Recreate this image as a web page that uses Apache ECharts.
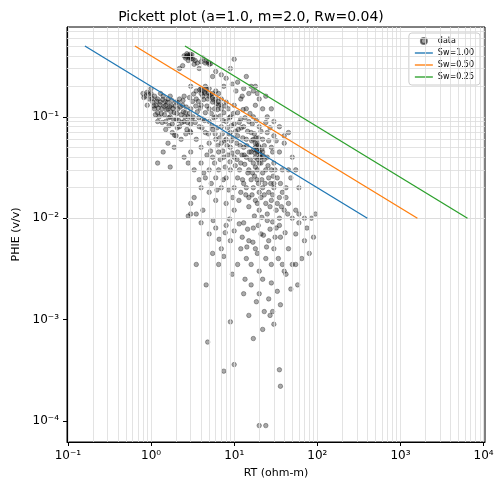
<!DOCTYPE html>
<html><head><meta charset="utf-8">
<script src="https://cdn.jsdelivr.net/npm/echarts@6/dist/echarts.min.js"></script>
<style>html,body{margin:0;padding:0;background:#fff}#c{width:502px;height:495px}</style>
</head><body><div id="c"></div>
<script>
const samples = [
[0.8,0.17],[0.85,0.16],[0.9,0.175],[0.95,0.15],[1.0,0.17],[1.05,0.14],[1.1,0.16],[1.1,0.12],[1.15,0.13],[1.2,0.15],[1.2,0.11],[1.25,0.1],[1.3,0.14],[1.35,0.12],[1.4,0.16],[1.45,0.105],[1.5,0.13],[1.5,0.09],[1.6,0.12],[1.6,0.15],[1.7,0.1],[1.75,0.13],[1.8,0.085],[1.9,0.11],[2.0,0.14],[2.0,0.095],[2.1,0.12],[2.2,0.08],[2.3,0.105],[2.4,0.13],[2.5,0.09],[2.6,0.11],[2.7,0.075],[2.8,0.1],[3.0,0.085],[1.0,0.19],[0.9,0.13],[1.3,0.17],[1.7,0.16],[2.2,0.15],[2.5,0.16],[3.0,0.12],[1.2,0.09],[1.5,0.075],[1.8,0.07],[2.0,0.065],[1.6,0.055],[1.9,0.05],[2.3,0.06],[1.4,0.045],[1.2,0.035],[1.7,0.032],
[0.82,0.155],[0.93,0.168],[1.03,0.152],[1.08,0.128],[1.17,0.143],[1.22,0.122],[1.28,0.132],[1.33,0.108],[1.38,0.148],[1.43,0.127],[1.53,0.117],[1.57,0.139],[1.63,0.098],[1.68,0.126],[1.73,0.112],[1.83,0.121],[1.87,0.094],[1.95,0.128],[2.05,0.108],[2.15,0.092],[2.25,0.125],[2.35,0.088],[2.45,0.112],[2.55,0.1],[2.65,0.125],[2.75,0.088],[2.9,0.108],[2.95,0.072],[3.1,0.095],[1.13,0.105],[1.48,0.142],[1.78,0.145],[2.12,0.138],[2.42,0.145],[1.36,0.088],[1.65,0.082],[2.07,0.078],[2.62,0.068],[1.92,0.066],
[2.5,0.4],[2.6,0.38],[2.8,0.36],[2.9,0.4],[3.0,0.39],[3.2,0.37],[3.4,0.36],[3.6,0.34],[4.0,0.35],[4.5,0.34],[5,0.33],[2.4,0.32],[3.8,0.3],[2.2,0.3],[6,0.28],[5.5,0.25],[7,0.26],[2.7,0.42],[3.1,0.41],[4.2,0.38],[2.65,0.395],[2.75,0.405],[2.85,0.385],[2.95,0.415],[3.05,0.375],[4.6,0.355],[4.9,0.345],[5.2,0.335],[3.3,0.33],
[10,0.37],[9,0.3],[14,0.25],[16,0.2],[17,0.18],[11,0.22],[8,0.24],[13,0.19],[9.5,0.21],[12.5,0.16],[15,0.17],[7.5,0.2],[10.5,0.18],[18,0.2],[19,0.17],
[3,0.2],[3.5,0.18],[3.5,0.15],[4,0.17],[4,0.13],[4.5,0.2],[4.5,0.11],[5,0.16],[5,0.12],[5,0.09],[5.5,0.14],[6,0.18],[6,0.1],[6.5,0.13],[7,0.15],[7,0.08],[7.5,0.11],[8,0.14],[8,0.09],[8.5,0.12],[9,0.1],[9,0.07],[10,0.13],[10,0.085],[11,0.11],[11,0.065],[12,0.095],[12,0.15],[13,0.08],[14,0.12],[14,0.06],[15,0.09],[16,0.07],[17,0.1],[18,0.055],[20,0.08],[20,0.045],[22,0.06],[25,0.07],[25,0.04],[28,0.05],[30,0.065],[35,0.045],[40,0.055],[45,0.03],
[3.25,0.168],[3.7,0.142],[3.9,0.122],[4.3,0.148],[4.7,0.128],[5.3,0.108],[5.7,0.098],[6.3,0.118],[6.8,0.102],[7.3,0.092],[7.8,0.128],[8.3,0.078],[8.8,0.098],[9.3,0.082],[9.8,0.108],[10.4,0.072],[11.5,0.088],[12.2,0.078],[12.8,0.118],[13.5,0.098],[14.5,0.072],[15.5,0.108],[16.5,0.085],[17.5,0.068],[18.5,0.092],[19.5,0.062],[21,0.072],[23,0.052],[24,0.088],[26,0.058],[27,0.078],[29,0.045],[32,0.058],[3.4,0.088],[3.6,0.112],[4.1,0.078],[4.4,0.092],[4.9,0.068],[5.4,0.082],[5.9,0.068],[6.2,0.078],[6.7,0.062],[7.2,0.068],[7.7,0.058],[8.2,0.052],[8.7,0.068],[9.2,0.058],[9.7,0.062],[10.7,0.055],[11.2,0.075],[11.8,0.052],[12.7,0.062],[13.2,0.042],[14.2,0.052],[15.2,0.045],[16.2,0.058],[17.2,0.048],[18.2,0.062],[3.15,0.142],[3.45,0.128],[3.75,0.098],[2.9,0.155],[3.85,0.185],
[3,0.07],[3.2,0.1],[3.5,0.06],[3.8,0.08],[4,0.05],[4.2,0.095],[4.5,0.07],[5,0.055],[5.5,0.075],[6,0.06],[6.5,0.045],[7,0.055],[7.5,0.04],[8,0.06],[9,0.05],[10,0.04],[11,0.045],[12,0.035],[13,0.05],[14,0.04],[15,0.03],[16,0.045],[17,0.035],[18,0.04],[19,0.03],[20,0.035],[22,0.028],[24,0.03],[26,0.025],[28,0.03],[30,0.022],[3,0.045],[2.8,0.035],[2.5,0.04],[3.3,0.03],[4,0.035],[4.5,0.025],[5,0.03],[5.5,0.04],[6,0.025],[6.5,0.03],[7,0.02],[8,0.025],[9,0.03],[10,0.02],[11,0.025],[12,0.018],[13,0.022],[14,0.02],[15,0.016],[16,0.024],[17,0.02],[18,0.015],[20,0.018],[22,0.02],[24,0.014],[26,0.018],[28,0.015],[30,0.02],[32,0.012],[35,0.016],[40,0.012],[45,0.014],[50,0.01],[35,0.01],[25,0.011],[20,0.012],[15,0.013],[10,0.012],[8,0.014],[6,0.015],[5,0.018],[4,0.02],[3.5,0.011],[4.2,0.012],[3,0.011],
[5.2,0.046],[5.8,0.035],[6.3,0.052],[6.8,0.038],[7.3,0.046],[7.8,0.032],[8.4,0.042],[8.9,0.036],[9.4,0.044],[10.3,0.033],[10.8,0.038],[11.6,0.03],[12.4,0.042],[13.4,0.034],[14.6,0.028],[15.6,0.038],[16.6,0.028],[17.6,0.026],[18.8,0.024],[19.6,0.022],[21.5,0.024],[23.5,0.022],[25.5,0.033],[27.5,0.022],[29.5,0.026],[31,0.03],[33,0.025],[36,0.022],[38,0.018],[42,0.016],[4.7,0.042],[4.3,0.028],[3.8,0.024],[5.3,0.022],[6.2,0.019],[7.4,0.024],[8.6,0.019],[9.6,0.016],[11.4,0.015],[12.6,0.024],[13.8,0.017],[16.4,0.017],[19,0.014],[21,0.016],[23,0.017],[27,0.013],[29,0.017],[33,0.014],[37,0.013],[44,0.011],[55,0.012],[60,0.011],[70,0.01],
[18,0.05],[19,0.045],[20,0.05],[21,0.04],[22,0.045],[19,0.055],[17,0.06],[21,0.035],[23,0.038],[18,0.032],[18.5,0.047],[19.5,0.052],[20.5,0.043],[21.5,0.048],[22.5,0.041],[19.2,0.038],[20.2,0.04],[17.8,0.044],
[4,0.19],[4.5,0.17],[5,0.19],[5.5,0.17],[4.2,0.16],[4.8,0.15],[6,0.15],[6.5,0.17],[7,0.12],[5.8,0.12],[4.1,0.182],[4.4,0.175],[4.6,0.188],[4.9,0.172],[5.2,0.165],[5.4,0.155],[5.6,0.148],[6.1,0.135],[6.4,0.142],[6.9,0.132],
[20,0.15],[22,0.12],[25,0.1],[28,0.12],[30,0.09],[35,0.08],[40,0.065],[45,0.07],[50,0.04],[55,0.03],[24,0.16],[18,0.13],[30,0.035],[38,0.03],[42,0.02],[60,0.02],[48,0.025],
[4,0.009],[5,0.007],[6,0.008],[7,0.005],[8,0.0085],[9,0.006],[10,0.0075],[12,0.005],[13,0.009],[14,0.004],[15,0.006],[16,0.0035],[17,0.008],[18,0.005],[19,0.0045],[20,0.003],[21,0.007],[22,0.0025],[24,0.004],[26,0.006],[28,0.0035],[30,0.005],[32,0.008],[34,0.004],[36,0.0065],[38,0.0035],[40,0.003],[45,0.005],[48,0.002],[50,0.0035],[55,0.007],[60,0.009],[70,0.006],[80,0.0045],[90,0.0065],[85,0.01],[95,0.011],[75,0.008],[65,0.004],[5.5,0.0045],[6.5,0.0035],[3.5,0.0035],[4.6,0.0022],[7.5,0.0042],[9.5,0.0028],[11,0.0035],[13.5,0.0025],[16,0.0022],[18.5,0.0015],[20,0.0018],[23,0.0012],[26,0.0016],[28,0.0023],[29,0.0012],[33,0.0019],[36,0.0014],[42,0.0028],[55,0.0035],[58,0.0022],[3,0.014],[2.8,0.0105],[3.3,0.016],
[5.6,0.0095],[6.6,0.0062],[7.8,0.0072],[8.8,0.0098],[11.5,0.0088],[12.5,0.0065],[14.5,0.0078],[16.8,0.0058],[19.5,0.0085],[22.5,0.0068],[25,0.0095],[27,0.0078],[31,0.0065],[35,0.0085],[41,0.0072],[29,0.0092],[17.5,0.0105],[21.5,0.0102],[24.5,0.0052],[14.2,0.0052],
[4.8,0.0006],[7.5,0.00031],[10,0.00036],[9,0.00095],[22,0.0008],[30,0.0009],[35,0.00032],[36,0.00022],[20,0.00009],[24,0.00009],[13,0.0018],[17,0.00065],[15,0.0011],[27,0.0011]
];
const swLabels = ['Sw=1.00','Sw=0.50','Sw=0.25'];
const swColors = ['#1f77b4','#ff7f0e','#2ca02c'];
const lineRT = [[0.16,400],[0.64,1600],[2.56,6400]];
const linePHIE = [[0.5,0.01],[0.5,0.01],[0.5,0.01]];
const xDecades = [-1,0,1,2,3,4];
const yDecades = [-5,-4,-3,-2,-1];

const sup = {'-':'⁻','0':'⁰','1':'¹','2':'²','3':'³','4':'⁴','5':'⁵'};
function fmt(v){const e=Math.round(Math.log10(v));return '10'+String(e).split('').map(c=>sup[c]).join('');}
const xGrid=[],yGrid=[];
xDecades.forEach(d=>{for(let k=1;k<10;k++){const v=k*Math.pow(10,d);if(v>=0.1&&v<=10000)xGrid.push({xAxis:v});}});
yDecades.forEach(d=>{for(let k=1;k<10;k++){const v=k*Math.pow(10,d);if(v>=6.5e-5&&v<=0.75)yGrid.push({yAxis:v});}});

const series=[{
  name:'grid',type:'line',data:[],silent:true,z:1,
  markLine:{silent:true,symbol:'none',label:{show:false},animation:false,
    lineStyle:{color:'#dcdcdc',width:0.8,type:'solid'},data:xGrid.concat(yGrid)}
},{
  name:'data',type:'scatter',data:samples,symbolSize:4.5,
  itemStyle:{color:'rgba(0,0,0,0.42)',borderColor:'rgba(0,0,0,0.65)',borderWidth:0.6},z:3
}];
swLabels.forEach((n,i)=>series.push({name:n,type:'line',symbol:'none',
  data:[[lineRT[i][0],linePHIE[i][0]],[lineRT[i][1],linePHIE[i][1]]],
  lineStyle:{color:swColors[i],width:1.3,type:'solid'},itemStyle:{color:swColors[i]},z:10}));

const chart=echarts.init(document.getElementById('c'));
chart.setOption({
  animation:false,
  title:{text:'Pickett plot (a=1.0, m=2.0, Rw=0.04)',left:'center',top:5,
    textStyle:{fontFamily:'DejaVu Sans',fontSize:14,fontWeight:'normal',color:'#000'}},
  grid:{left:67,right:17,top:27,bottom:53,show:true,borderColor:'#000',borderWidth:1},
  legend:{orient:'vertical',right:22,top:33,itemWidth:18,itemHeight:6,itemGap:4,
    backgroundColor:'rgba(255,255,255,0.85)',borderColor:'#ccc',borderWidth:1,borderRadius:3,padding:[4,6],
    textStyle:{fontFamily:'DejaVu Sans',fontSize:8,color:'#000'},
    data:[{name:'data',icon:'circle',itemStyle:{color:'rgba(0,0,0,0.45)'}}].concat(swLabels.map(n=>({name:n,icon:'path://M0,0L20,0L20,1.5L0,1.5Z'})))},
  xAxis:{type:'log',logBase:10,min:0.0975,max:10400,name:'RT (ohm-m)',nameLocation:'middle',nameGap:26,
    nameTextStyle:{fontFamily:'DejaVu Sans',fontSize:11,color:'#000'},
    axisLine:{lineStyle:{color:'#000'}},axisTick:{show:true,inside:false,length:4,lineStyle:{color:'#000'}},
    axisLabel:{formatter:fmt,fontFamily:'DejaVu Sans',fontSize:12,color:'#000',showMinLabel:false,showMaxLabel:false},
    splitLine:{show:false}},
  yAxis:{type:'log',logBase:10,min:6.2e-5,max:0.77,name:'PHIE (v/v)',nameLocation:'middle',nameGap:44,
    nameTextStyle:{fontFamily:'DejaVu Sans',fontSize:11,color:'#000'},
    axisLine:{show:true,lineStyle:{color:'#000'}},axisTick:{show:true,inside:false,length:4,lineStyle:{color:'#000'}},
    axisLabel:{formatter:fmt,fontFamily:'DejaVu Sans',fontSize:12,color:'#000',showMinLabel:false,showMaxLabel:false},
    splitLine:{show:false}},
  series:series
});
</script></body></html>
